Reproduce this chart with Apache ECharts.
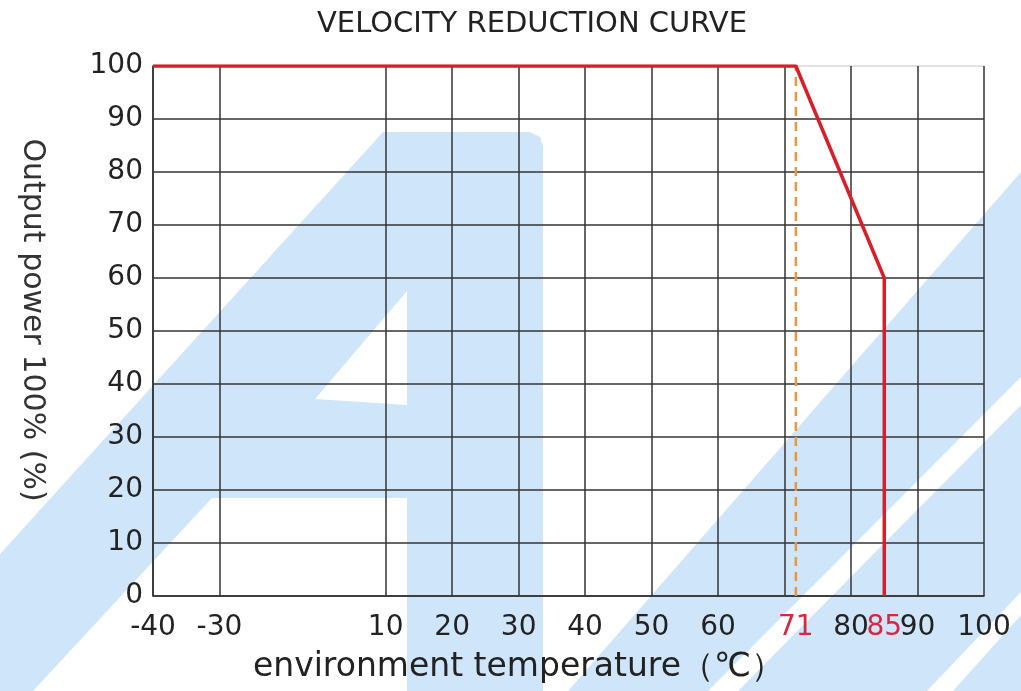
<html>
<head>
    <meta charset="utf-8">
    <title>Velocity reduction curve</title>
    <script src="https://cdn.jsdelivr.net/npm/echarts@6/dist/echarts.min.js"></script>
    <style>
        body { margin: 0; background: #fff; }
    </style>
</head>
<body>
    <div id="main" style="width: 1021px;height:691px;"></div>
    <script type="text/javascript">
        // data
        var gridTemps = [-40, -30, 10, 20, 30, 40, 50, 60, 70, 80, 90, 100];
        var labelTemps = [-40, -30, 10, 20, 30, 40, 50, 60, 71, 80, 85, 90, 100];
        var redTemps = [71, 85];
        var curveTemps = [-40, 71, 85, 85];
        var curvePower = [100, 100, 60, 0];
        var kneeTemp = 71;
        var powerTicks = [0, 10, 20, 30, 40, 50, 60, 70, 80, 90, 100];

        // the printed temperature axis is not to scale: -30..10 is squeezed,
        // and 71 sits a little right of where linear 70..80 would put it
        var scaleTemps = [-40, -30, 10, 70, 71, 80, 100];
        var scaleSlots = [0, 1, 3.5, 9.5, 9.67, 10.5, 12.5];

        function toSlot(t) {
            for (var i = 1; i < scaleTemps.length; i++) {
                if (t <= scaleTemps[i]) {
                    var f = (t - scaleTemps[i - 1]) / (scaleTemps[i] - scaleTemps[i - 1]);
                    return scaleSlots[i - 1] + f * (scaleSlots[i] - scaleSlots[i - 1]);
                }
            }
            return scaleSlots[scaleSlots.length - 1];
        }

        function slotLabel(v) {
            var best = labelTemps[0];
            labelTemps.forEach(function (t) {
                if (Math.abs(toSlot(t) - v) < Math.abs(toSlot(best) - v)) best = t;
            });
            return redTemps.indexOf(best) >= 0 ? '{r|' + best + '}' : String(best);
        }

        var myChart = echarts.init(document.getElementById('main'));

        var wm = '#cfe5f9';   // light blue logo watermark behind the grid
        var font = 'DejaVu Sans';

        var hLineColors = powerTicks.map(function (v, i) {
            return i === powerTicks.length - 1 ? '#d8d8d8' : '#333';
        });

        option = {
            animation: false,
            title: {
                text: 'VELOCITY REDUCTION CURVE',
                left: 527,
                textAlign: 'center',
                top: 5,
                textStyle: { fontFamily: font, fontSize: 29, fontWeight: 'normal', color: '#222' }
            },
            graphic: [
                { type: 'polygon', z: -10, silent: true,
                  shape: { points: [[383, 132], [530, 132], [540, 137], [543, 146], [543, 691], [407, 691],
                                    [407, 498], [212, 498], [33, 691], [0, 691], [0, 554]] },
                  style: { fill: wm } },
                { type: 'polygon', z: -9, silent: true,
                  shape: { points: [[407, 291], [315, 399], [407, 405]] },
                  style: { fill: '#fff' } },
                { type: 'polygon', z: -10, silent: true,
                  shape: { points: [[568, 691], [1021, 172], [1021, 377], [708, 691]] },
                  style: { fill: wm } },
                { type: 'polygon', z: -10, silent: true,
                  shape: { points: [[738, 691], [1021, 405], [1021, 592], [927, 691]] },
                  style: { fill: wm } },
                { type: 'polygon', z: -10, silent: true,
                  shape: { points: [[953, 691], [1021, 615], [1021, 691]] },
                  style: { fill: wm } }
            ],
            grid: { left: 153, right: 37, top: 66, bottom: 95 },
            xAxis: {
                type: 'value',
                min: 0,
                max: toSlot(100),
                interval: 1,
                name: 'environment temperature（℃）',
                nameLocation: 'middle',
                nameGap: 55,
                nameTextStyle: { fontFamily: font, fontSize: 33, color: '#222', padding: [0, 100, 0, 0] },
                axisLine: { lineStyle: { color: '#333', width: 1.5 } },
                axisTick: { show: false, customValues: gridTemps.map(toSlot) },
                axisLabel: {
                    customValues: labelTemps.map(toSlot),
                    formatter: slotLabel,
                    margin: 18,
                    fontFamily: font,
                    fontSize: 28,
                    color: '#222',
                    rich: { r: { fontFamily: font, fontSize: 28, color: '#d4283f' } }
                },
                splitLine: { show: true, lineStyle: { color: '#333', width: 1.5 } }
            },
            yAxis: {
                type: 'value',
                min: 0,
                max: 100,
                interval: 10,
                name: 'Output power 100% (%)',
                nameLocation: 'middle',
                nameRotate: -90,
                nameGap: 106,
                nameTextStyle: { fontFamily: font, fontSize: 30, color: '#333', padding: [0, 22, 0, 0] },
                axisLine: { show: true, lineStyle: { color: '#333', width: 1.5 } },
                axisTick: { show: false },
                axisLabel: { margin: 10, fontFamily: font, fontSize: 28, color: '#222' },
                splitLine: { show: true, lineStyle: { color: hLineColors, width: 1.5 } }
            },
            series: [
                {
                    type: 'line',
                    symbol: 'none',
                    z: 3,
                    data: [[toSlot(kneeTemp), 0], [toSlot(kneeTemp), 100]],
                    lineStyle: { color: '#e8963f', width: 2.5, type: [9, 6] }
                },
                {
                    type: 'line',
                    symbol: 'none',
                    z: 4,
                    data: curveTemps.map(function (t, i) { return [toSlot(t), curvePower[i]]; }),
                    lineStyle: { color: '#d81e28', width: 3.5 }
                }
            ]
        };

        myChart.setOption(option);
    </script>
</body>
</html>
